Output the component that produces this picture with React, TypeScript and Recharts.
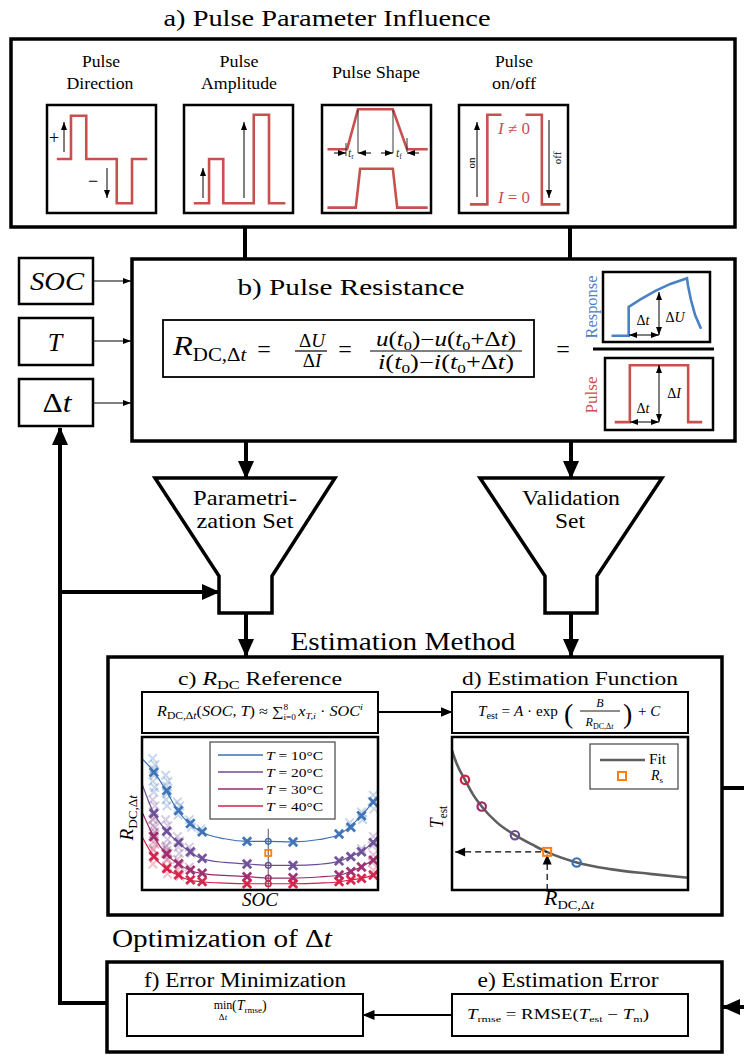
import React from 'react';
import { LineChart, Line, XAxis, YAxis, ComposedChart, Scatter, ReferenceLine } from 'recharts';

const FONT = "'Liberation Serif', 'DejaVu Serif', serif";
const RED = '#c8504f';
const BLUE = '#4a80c4';
const T_COLORS = ['#3a70b5', '#6b4d96', '#9c2a6b', '#d61f47'];
const T_LABELS = ['10', '20', '30', '40'];

// a) pulse sketches, time / level in 0..10 units
const dirT = [0.9, 2.2, 2.2, 3.6, 3.6, 6.4, 6.4, 7.8, 7.8, 9.2];
const dirI = [5, 5, 9, 9, 5, 5, 0.9, 0.9, 5, 5];
const ampT = [0.9, 2.3, 2.3, 3.6, 3.6, 6.4, 6.4, 7.8, 7.8, 9.3];
const ampI = [0.9, 0.9, 5, 5, 0.9, 0.9, 9.1, 9.1, 0.9, 0.9];
const shapeT1 = [0.5, 2.3, 3.3, 6.5, 7.8, 9.7];
const shapeI1 = [5.9, 5.9, 9.6, 9.6, 5.9, 5.9];
const shapeT2 = [0.5, 3.1, 3.5, 6.5, 6.9, 9.7];
const shapeI2 = [0.5, 0.5, 4.1, 4.1, 0.5, 0.5];
const onT = [1.0, 2.6, 2.6, 3.9];
const onI = [0.8, 0.8, 9.1, 9.1];
const offT = [6.1, 7.6, 7.6, 9.3];
const offI = [9.1, 9.1, 0.8, 0.8];

// b) response and pulse
const respT = [0.8, 2.4, 2.4, 3.5, 4.9, 6.3, 7.85, 7.94, 8.22, 8.6, 9.16];
const respU = [0.9, 0.9, 5.0, 6.1, 7.3, 8.3, 9.1, 8.1, 6.0, 3.9, 1.9];
const pulseT = [0.9, 2.3, 2.3, 7.7, 7.7, 9.0];
const pulseI = [1.1, 1.1, 9.0, 9.0, 1.1, 1.1];

// c) R_DC reference curves (SOC in %, R in a.u.)
const socGrid = [0, 5, 10, 15, 20, 25, 35, 45, 54, 64, 75, 84, 88, 93, 98, 100];
const r10 = [8.58, 7.73, 6.54, 5.23, 4.35, 3.81, 3.35, 3.18, 3.18, 3.14, 3.3, 3.66, 4.14, 4.86, 5.77, 6.15];
const r20 = [6.94, 5.01, 3.92, 3.16, 2.51, 2.07, 1.8, 1.7, 1.61, 1.61, 1.68, 1.9, 2.18, 2.51, 3.16, 3.55];
const r30 = [5.12, 3.49, 2.4, 1.74, 1.31, 1.09, 0.95, 0.87, 0.78, 0.78, 0.85, 0.98, 1.2, 1.52, 1.96, 2.1];
const r40 = [3.5, 2.18, 1.42, 0.98, 0.65, 0.54, 0.45, 0.41, 0.41, 0.41, 0.45, 0.54, 0.65, 0.76, 0.98, 1.1];

const measSoc = [5, 10.5, 15.5, 20.5, 25.5, 44.5, 64, 83.5, 88.5, 93, 98];
const meas10 = [7.7, 6.5, 5.2, 4.35, 3.8, 3.18, 3.14, 3.66, 4.1, 4.85, 5.75];
const meas20 = [5.0, 3.85, 3.1, 2.5, 2.07, 1.7, 1.6, 1.9, 2.18, 2.5, 3.1];
const meas30 = [3.5, 2.35, 1.72, 1.3, 1.1, 0.87, 0.8, 0.98, 1.2, 1.5, 1.95];
const meas40 = [2.2, 1.4, 1.0, 0.66, 0.55, 0.4, 0.4, 0.55, 0.65, 0.76, 0.98];

const faint10 = [[4.5, 8.6], [5.5, 8.2], [4.8, 7.9], [5.2, 7.5], [4.6, 7.1], [5.4, 6.7], [5, 6.4], [10, 7.5], [11, 7.1], [10.3, 6.8], [10.8, 6.3], [10.2, 5.9], [10.6, 5.5], [15, 5.75], [16, 5.5], [15.3, 4.9], [20, 4.6], [21, 4.1], [25, 4.0], [88, 4.4], [93, 5.1], [93.5, 4.6], [98, 6.2], [97.5, 5.8], [98.3, 5.3]];
const faint20 = [[4.5, 5.9], [5.5, 5.5], [4.8, 5.1], [5.2, 4.7], [4.6, 4.2], [5.4, 3.8], [5, 3.5], [10, 4.6], [11, 4.2], [10.3, 3.8], [10.8, 3.3], [10.2, 2.9], [10.6, 2.6], [15, 3.5], [16, 3.2], [15.3, 2.8], [15.8, 2.4], [20, 2.8], [21, 2.4], [93, 2.7], [98, 3.5], [97.5, 2.9]];
const faint30 = [[4.5, 4.6], [5.5, 4.1], [4.8, 3.7], [5.2, 3.2], [4.6, 2.7], [5.4, 2.2], [10, 2.8], [11, 2.4], [10.3, 2.0], [10.8, 1.5], [15, 2.0], [16, 1.6], [20, 1.5], [98, 2.3], [97.5, 1.8]];
const faint40 = [[4.5, 3.5], [5.5, 3.0], [4.8, 2.6], [5.2, 2.1], [4.6, 1.7], [10, 2.4], [11, 2.0], [10.3, 1.5], [10.8, 1.05], [15, 1.3], [16, 0.9], [98, 1.3]];

const refSoc = 53.5;
const refR = [3.18, 1.61, 0.78, 0.41];
const rsValue = 2.42;
const refLineTop = 4.0;

// d) estimation function
const fitR = [0, 0.12, 0.33, 0.54, 0.755, 1.14, 1.6, 2.07, 2.41, 3.17, 4.02, 5.03, 6.0];
const fitT = [50.2, 45.4, 39.6, 34.2, 30.0, 24.3, 19.7, 16.1, 13.7, 9.9, 7.5, 5.8, 4.4];
const dPointR = [3.17, 1.6, 0.755, 0.33];
const dPointT = [9.9, 19.7, 30.0, 39.6];
const rsTemp = 13.7;

const zip = (xs: number[], ys: number[]) => xs.map((t, i) => ({ t, v: ys[i] }));
const curveTable = socGrid.map((soc, i) => ({ soc, t0: r10[i], t1: r20[i], t2: r30[i], t3: r40[i] }));
const measSets = [meas10, meas20, meas30, meas40].map((m) => m.map((r, i) => ({ soc: measSoc[i], r })));
const faintSets = [faint10, faint20, faint30, faint40].map((f) => f.map(([soc, r]) => ({ soc, r })));
const fitTable = fitR.map((r, i) => ({ r, t: fitT[i] }));

const cross = (color: string, s: number, w: number, op: number) => (p: any) => (
  <path
    d={`M${p.cx - s},${p.cy - s}L${p.cx + s},${p.cy + s}M${p.cx - s},${p.cy + s}L${p.cx + s},${p.cy - s}`}
    stroke={color}
    strokeWidth={w}
    opacity={op}
    fill="none"
  />
);
const ring = (color: string, r: number, w: number) => (p: any) => (
  <circle cx={p.cx} cy={p.cy} r={r} fill="none" stroke={color} strokeWidth={w} />
);
const square = (s: number, w: number) => (p: any) => (
  <rect x={p.cx - s} y={p.cy - s} width={2 * s} height={2 * s} fill="none" stroke="#ff7f0e" strokeWidth={w} />
);

function Mini({ left, top, w, h, series, color }: any) {
  return (
    <div style={{ position: 'absolute', left, top }}>
      <LineChart width={w} height={h} margin={{ top: 0, right: 0, bottom: 0, left: 0 }}>
        <XAxis type="number" dataKey="t" domain={[0, 10]} hide />
        <YAxis type="number" domain={[0, 10]} hide />
        {series.map((d: any, i: number) => (
          <Line key={i} data={d} dataKey="v" type="linear" stroke={color} strokeWidth={2.6} dot={false} isAnimationActive={false} />
        ))}
      </LineChart>
    </div>
  );
}

// text fitted to the width measured in the reference
const L = ({ x, y, w, size, anchor = 'middle', children, ...rest }: any) => (
  <text x={x} y={y} fontSize={size} textAnchor={anchor} textLength={w} lengthAdjust="spacingAndGlyphs" {...rest}>
    {children}
  </text>
);

const Rdc = ({ size, sub }: { size: number; sub: number }) => (
  <>
    <tspan fontStyle="italic" fontSize={size}>R</tspan>
    <tspan fontSize={sub} dy={size * 0.22}>DC,Δ</tspan>
    <tspan fontSize={sub} fontStyle="italic">t</tspan>
    <tspan dy={-size * 0.22} fontSize={size}>{'\u200A'}</tspan>
  </>
);

export default function App() {
  const thick = { stroke: '#000', strokeWidth: 3.5, fill: 'none' };
  const thin = { stroke: '#000', strokeWidth: 2, fill: 'none' };
  return (
    <div style={{ position: 'absolute', left: 0, top: 0, width: 744, height: 1055, background: '#fff', fontFamily: FONT }}>
      {/* a) pulse sketches */}
      <Mini left={47} top={105} w={109} h={108} color={RED} series={[zip(dirT, dirI)]} />
      <Mini left={184} top={105} w={109} h={108} color={RED} series={[zip(ampT, ampI)]} />
      <Mini left={322} top={105} w={109} h={108} color={RED} series={[zip(shapeT1, shapeI1), zip(shapeT2, shapeI2)]} />
      <Mini left={459} top={105} w={109} h={108} color={RED} series={[zip(onT, onI), zip(offT, offI)]} />
      {/* b) response / pulse */}
      <Mini left={603} top={272} w={107} h={70} color={BLUE} series={[zip(respT, respU)]} />
      <Mini left={605} top={358} w={108} h={72} color={RED} series={[zip(pulseT, pulseI)]} />

      {/* c) reference plot */}
      <div style={{ position: 'absolute', left: 142, top: 737 }}>
        <ComposedChart width={236} height={153} data={curveTable} margin={{ top: 0, right: 0, bottom: 0, left: 0 }}>
          <XAxis type="number" dataKey="soc" domain={[0, 100]} hide />
          <YAxis type="number" domain={[0, 10]} hide />
          {faintSets.map((d, i) => (
            <Scatter key={`f${i}`} data={d} dataKey="r" shape={cross(T_COLORS[i], 4.2, 2, 0.28)} isAnimationActive={false} />
          ))}
          {T_COLORS.map((c, i) => (
            <Line key={`l${i}`} dataKey={`t${i}`} type="monotone" stroke={c} strokeWidth={1.2} dot={false} isAnimationActive={false} />
          ))}
          {measSets.map((d, i) => (
            <Scatter key={`m${i}`} data={d} dataKey="r" shape={cross(T_COLORS[i], 4.2, 2.8, 0.95)} isAnimationActive={false} />
          ))}
          <ReferenceLine segment={[{ x: refSoc, y: 0 }, { x: refSoc, y: refLineTop }]} stroke="#555" strokeWidth={1} />
          {refR.map((r, i) => (
            <Scatter key={`c${i}`} data={[{ soc: refSoc, r }]} dataKey="r" shape={ring(T_COLORS[i], 2.8, 1.5)} isAnimationActive={false} />
          ))}
          <Scatter data={[{ soc: refSoc, r: rsValue }]} dataKey="r" shape={square(3, 1.8)} isAnimationActive={false} />
        </ComposedChart>
      </div>

      {/* d) estimation function plot */}
      <div style={{ position: 'absolute', left: 452, top: 737 }}>
        <ComposedChart width={236} height={153} margin={{ top: 0, right: 0, bottom: 0, left: 0 }}>
          <XAxis type="number" dataKey="r" domain={[0, 6]} hide />
          <YAxis type="number" domain={[0, 55]} hide />
          <Line data={fitTable} dataKey="t" type="monotone" stroke="#5e5e5e" strokeWidth={2.6} dot={false} isAnimationActive={false} />
          <Line
            data={[{ r: 0.08, t: rsTemp }, { r: rsValue, t: rsTemp }]}
            dataKey="t"
            stroke="#000"
            strokeWidth={1.2}
            strokeDasharray="6 4"
            isAnimationActive={false}
            dot={(p: any) =>
              p.index === 0 ? <path key="h" d={`M${p.cx},${p.cy}l10,-4.5v9z`} fill="#000" /> : <g key={`h${p.index}`} />
            }
          />
          <Line
            data={[{ r: rsValue, t: 0 }, { r: rsValue, t: rsTemp - 0.9 }]}
            dataKey="t"
            stroke="#000"
            strokeWidth={1.2}
            strokeDasharray="6 4"
            isAnimationActive={false}
            dot={(p: any) =>
              p.index === 1 ? <path key="v" d={`M${p.cx},${p.cy}l-4.5,10h9z`} fill="#000" /> : <g key={`v${p.index}`} />
            }
          />
          {dPointR.map((r, i) => (
            <Scatter key={`d${i}`} data={[{ r, t: dPointT[i] }]} dataKey="t" shape={ring(T_COLORS[i], 4.2, 2.2)} isAnimationActive={false} />
          ))}
          <Scatter data={[{ r: rsValue, t: rsTemp }]} dataKey="t" shape={square(4, 2)} isAnimationActive={false} />
        </ComposedChart>
      </div>

      <svg width={744} height={1055} style={{ position: 'absolute', left: 0, top: 0 }} fontFamily={FONT} fill="#000">
        <defs>
          <marker id="big" markerUnits="userSpaceOnUse" viewBox="0 0 18 16" markerWidth={18} markerHeight={16} refX={17} refY={8} orient="auto-start-reverse">
            <path d="M0,0L18,8L0,16z" fill="#000" />
          </marker>
          <marker id="mid" markerUnits="userSpaceOnUse" viewBox="0 0 12 10" markerWidth={12} markerHeight={10} refX={11.5} refY={5} orient="auto-start-reverse">
            <path d="M0,0L12,5L0,10z" fill="#000" />
          </marker>
          <marker id="sm" markerUnits="userSpaceOnUse" viewBox="0 0 8 6" markerWidth={8} markerHeight={6} refX={8} refY={3} orient="auto-start-reverse">
            <path d="M0,0L8,3L0,6z" fill="#000" />
          </marker>
        </defs>

        {/* a) */}
        <L x={327} y={26} w={327} size={24}>a) Pulse Parameter Influence</L>
        <rect x={11} y={39} width={724} height={188} {...thick} />
        <L x={101} y={67} w={38} size={17}>Pulse</L>
        <L x={100} y={89} w={67} size={17}>Direction</L>
        <L x={239} y={67} w={39} size={17}>Pulse</L>
        <L x={239} y={89} w={76} size={17}>Amplitude</L>
        <L x={376} y={78} w={88} size={17}>Pulse Shape</L>
        <L x={514} y={67} w={38} size={17}>Pulse</L>
        <L x={514} y={89} w={44} size={17}>on/off</L>
        {[47, 184, 322, 459].map((x) => (
          <rect key={x} x={x} y={105} width={109} height={108} stroke="#000" strokeWidth={2.5} fill="none" />
        ))}
        <text x={54} y={144} fontSize={18} textAnchor="middle" fill="#000">+</text>
        <text x={93} y={187} fontSize={18} textAnchor="middle" fill="#000">−</text>
        <line x1={64} y1={152} x2={64} y2={122} stroke="#000" strokeWidth={1} markerEnd="url(#sm)" />
        <line x1={107} y1={168} x2={107} y2={198} stroke="#000" strokeWidth={1} markerEnd="url(#sm)" />
        <line x1={203} y1={198} x2={203} y2={168} stroke="#000" strokeWidth={1} markerEnd="url(#sm)" />
        <line x1={244} y1={198} x2={244} y2={122} stroke="#000" strokeWidth={1} markerEnd="url(#sm)" />
        {/* pulse shape annotations */}
        <g stroke="#222" strokeWidth={0.9}>
          <line x1={358} y1={110} x2={358} y2={153} />
          <line x1={393} y1={110} x2={393} y2={153} />
          <line x1={346} y1={143} x2={346} y2={156} />
          <line x1={407} y1={138} x2={407} y2={152} />
        </g>
        <line x1={334} y1={153} x2={346} y2={153} stroke="#000" strokeWidth={1} markerEnd="url(#sm)" />
        <line x1={371} y1={153} x2={358} y2={153} stroke="#000" strokeWidth={1} markerEnd="url(#sm)" />
        <line x1={381} y1={153} x2={393} y2={153} stroke="#000" strokeWidth={1} markerEnd="url(#sm)" />
        <line x1={419} y1={153} x2={407} y2={153} stroke="#000" strokeWidth={1} markerEnd="url(#sm)" />
        <text x={348} y={157} fontSize={12} fill="#333">
          <tspan fontStyle="italic">t</tspan>
          <tspan fontSize={8} dy={2}>r</tspan>
        </text>
        <text x={396} y={157} fontSize={12} fill="#333">
          <tspan fontStyle="italic">t</tspan>
          <tspan fontSize={8} dy={2}>f</tspan>
        </text>
        {/* on/off annotations */}
        <line x1={477} y1={197} x2={477} y2={122} stroke="#000" strokeWidth={1} markerEnd="url(#sm)" />
        <line x1={549} y1={120} x2={549} y2={198} stroke="#000" strokeWidth={1} markerEnd="url(#sm)" />
        <text transform="translate(475,163) rotate(-90)" fontSize={11} textAnchor="middle">on</text>
        <text transform="translate(561,158) rotate(-90)" fontSize={11} textAnchor="middle">off</text>
        <L x={514} y={134} w={32} size={16} fill={RED}>
          <tspan fontStyle="italic">I</tspan> ≠ 0
        </L>
        <L x={514} y={203} w={32} size={16} fill={RED}>
          <tspan fontStyle="italic">I</tspan> = 0
        </L>

        {/* connectors a -> b */}
        <line x1={245} y1={227} x2={245} y2={260} stroke="#000" strokeWidth={4} />
        <line x1={570} y1={227} x2={570} y2={260} stroke="#000" strokeWidth={4} />

        {/* inputs */}
        <rect x={19} y={258} width={74} height={46} stroke="#000" strokeWidth={2.5} fill="none" />
        <rect x={19} y={318} width={74} height={47} stroke="#000" strokeWidth={2.5} fill="none" />
        <rect x={19} y={379} width={74} height={47} stroke="#000" strokeWidth={2.5} fill="none" />
        <L x={57} y={290} w={54} size={25} fontStyle="italic">SOC</L>
        <text x={55} y={351} fontSize={26} fontStyle="italic" textAnchor="middle">T</text>
        <L x={57} y={412} w={29} size={27}>
          Δ<tspan fontStyle="italic">t</tspan>
        </L>
        {[281, 341, 403].map((y) => (
          <line key={y} x1={93} y1={y} x2={131} y2={y} stroke="#000" strokeWidth={1.2} markerEnd="url(#sm)" />
        ))}

        {/* b) */}
        <rect x={132} y={259} width={603} height={182} {...thick} />
        <L x={351} y={295} w={227} size={24}>b) Pulse Resistance</L>
        <rect x={163} y={320} width={371} height={57} stroke="#000" strokeWidth={1.8} fill="none" />
        <L x={173} y={355} w={76} size={28} anchor="start">
          <Rdc size={28} sub={18} />
        </L>
        <text x={264} y={357} fontSize={24} textAnchor="middle">=</text>
        <text x={312} y={347} fontSize={19} textAnchor="middle">
          Δ<tspan fontStyle="italic">U</tspan>
        </text>
        <line x1={295} y1={351} x2={327} y2={351} stroke="#000" strokeWidth={1.2} />
        <text x={312} y={367} fontSize={19} textAnchor="middle">
          Δ<tspan fontStyle="italic">I</tspan>
        </text>
        <text x={345} y={357} fontSize={24} textAnchor="middle">=</text>
        <L x={446} y={346} w={140} size={20}>
          <tspan fontStyle="italic">u</tspan>(<tspan fontStyle="italic">t</tspan>
          <tspan fontSize={13} dy={4}>0</tspan>
          <tspan dy={-4}>)−</tspan>
          <tspan fontStyle="italic">u</tspan>(<tspan fontStyle="italic">t</tspan>
          <tspan fontSize={13} dy={4}>0</tspan>
          <tspan dy={-4}>+Δ</tspan>
          <tspan fontStyle="italic">t</tspan>)
        </L>
        <line x1={370} y1={351} x2={522} y2={351} stroke="#000" strokeWidth={1.2} />
        <L x={446} y={369} w={136} size={20}>
          <tspan fontStyle="italic">i</tspan>(<tspan fontStyle="italic">t</tspan>
          <tspan fontSize={13} dy={4}>0</tspan>
          <tspan dy={-4}>)−</tspan>
          <tspan fontStyle="italic">i</tspan>(<tspan fontStyle="italic">t</tspan>
          <tspan fontSize={13} dy={4}>0</tspan>
          <tspan dy={-4}>+Δ</tspan>
          <tspan fontStyle="italic">t</tspan>)
        </L>
        <text x={563} y={357} fontSize={24} textAnchor="middle">=</text>
        <line x1={593} y1={349} x2={714} y2={349} stroke="#000" strokeWidth={3} />
        <rect x={603} y={272} width={107} height={70} stroke="#000" strokeWidth={2.5} fill="none" />
        <rect x={605} y={358} width={108} height={72} stroke="#000" strokeWidth={2.5} fill="none" />
        <L transform="translate(597,307) rotate(-90)" x={0} y={0} w={63} size={16} fill={BLUE}>Response</L>
        <L transform="translate(597,395) rotate(-90)" x={0} y={0} w={37} size={16} fill={RED}>Pulse</L>
        <line x1={629} y1={335} x2={659} y2={335} stroke="#000" strokeWidth={1} markerStart="url(#sm)" markerEnd="url(#sm)" />
        <line x1={659} y1={292} x2={659} y2={335} stroke="#000" strokeWidth={1} markerStart="url(#sm)" markerEnd="url(#sm)" />
        <line x1={630} y1={422} x2={659} y2={422} stroke="#000" strokeWidth={1} markerStart="url(#sm)" markerEnd="url(#sm)" />
        <line x1={659} y1={365} x2={659} y2={422} stroke="#000" strokeWidth={1} markerStart="url(#sm)" markerEnd="url(#sm)" />
        <text x={643} y={325} fontSize={14} textAnchor="middle">
          Δ<tspan fontStyle="italic">t</tspan>
        </text>
        <text x={675} y={322} fontSize={14} textAnchor="middle">
          Δ<tspan fontStyle="italic">U</tspan>
        </text>
        <text x={643} y={413} fontSize={14} textAnchor="middle">
          Δ<tspan fontStyle="italic">t</tspan>
        </text>
        <text x={674} y={398} fontSize={14} textAnchor="middle">
          Δ<tspan fontStyle="italic">I</tspan>
        </text>

        {/* funnels */}
        <line x1={246} y1={441} x2={246} y2={478} stroke="#000" strokeWidth={4} markerEnd="url(#big)" />
        <line x1={571} y1={441} x2={571} y2={478} stroke="#000" strokeWidth={4} markerEnd="url(#big)" />
        <polygon points="155,478 335,478 272,576 272,613 219,613 219,576" stroke="#000" strokeWidth={3.5} fill="#fff" />
        <polygon points="480,478 662,478 597,576 597,613 545,613 545,576" stroke="#000" strokeWidth={3.5} fill="#fff" />
        <L x={245} y={505} w={104} size={21}>Parametri-</L>
        <L x={245} y={528} w={97} size={21}>zation Set</L>
        <L x={571} y={505} w={98} size={21}>Validation</L>
        <L x={570} y={528} w={30} size={21}>Set</L>
        <line x1={246} y1={613} x2={246} y2={656} stroke="#000" strokeWidth={4} markerEnd="url(#big)" />
        <line x1={571} y1={613} x2={571} y2={656} stroke="#000" strokeWidth={4} markerEnd="url(#big)" />

        {/* feedback loop */}
        <path d="M108,1003H60V428" stroke="#000" strokeWidth={4} fill="none" markerEnd="url(#big)" />
        <line x1={60} y1={592} x2={219} y2={592} stroke="#000" strokeWidth={4} markerEnd="url(#big)" />
        <line x1={722} y1={788} x2={744} y2={788} stroke="#000" strokeWidth={4} />
        <line x1={746} y1={1007} x2={723} y2={1007} stroke="#000" strokeWidth={4} markerEnd="url(#big)" />

        {/* estimation method */}
        <L x={403} y={650} w={225} size={26}>Estimation Method</L>
        <rect x={108} y={657} width={614} height={258} {...thick} />
        <L x={260} y={685} w={164} size={19}>
          c) <tspan fontStyle="italic">R</tspan>
          <tspan fontSize={13} dy={4}>DC</tspan>
          <tspan dy={-4}> Reference</tspan>
        </L>
        <L x={570} y={685} w={216} size={19}>d) Estimation Function</L>
        <rect x={142} y={692} width={236} height={41} {...thin} />
        <rect x={452} y={692} width={236} height={41} {...thin} />
        <line x1={378} y1={712} x2={452} y2={712} stroke="#000" strokeWidth={2} markerEnd="url(#mid)" />
        <L x={260} y={716} w={206} size={14}>
          <tspan fontStyle="italic">R</tspan>
          <tspan fontSize={10} dy={3}>DC,Δ</tspan>
          <tspan fontSize={10} fontStyle="italic">t</tspan>
          <tspan dy={-3}>(</tspan>
          <tspan fontStyle="italic">SOC, T</tspan>) ≈ ∑
          <tspan fontSize={8} dy={-6}>8</tspan>
          <tspan fontSize={8} dx={-4} dy={10}>i=0</tspan>
          <tspan dy={-4} dx={2} fontStyle="italic">x</tspan>
          <tspan fontSize={9} dy={3} fontStyle="italic">T,i</tspan>
          <tspan dy={-3}> · </tspan>
          <tspan fontStyle="italic">SOC</tspan>
          <tspan fontSize={9} dy={-6} fontStyle="italic">i</tspan>
        </L>
        {/* d) formula */}
        <L x={478} y={716} w={80} size={15} anchor="start">
          <tspan fontStyle="italic">T</tspan>
          <tspan fontSize={10} dy={3}>est</tspan>
          <tspan dy={-3}>{'  =  '}</tspan>
          <tspan fontStyle="italic">A</tspan> · exp
        </L>
        <text x={564} y={723} fontSize={28}>(</text>
        <text x={600} y={707} fontSize={12} fontStyle="italic" textAnchor="middle">B</text>
        <line x1={580} y1={711} x2={620} y2={711} stroke="#000" strokeWidth={0.9} />
        <text x={600} y={726} fontSize={12} textAnchor="middle">
          <Rdc size={12} sub={8} />
        </text>
        <text x={623} y={723} fontSize={28}>)</text>
        <text x={638} y={716} fontSize={15}>
          + <tspan fontStyle="italic">C</tspan>
        </text>

        <rect x={142} y={737} width={236} height={153} stroke="#000" strokeWidth={2.5} fill="none" />
        <rect x={452} y={737} width={236} height={153} stroke="#000" strokeWidth={2.5} fill="none" />
        {/* legend c */}
        <rect x={210} y={742} width={125} height={77} stroke="#444" strokeWidth={1.2} fill="#fff" />
        {T_LABELS.map((t, i) => (
          <g key={t}>
            <line x1={218} y1={755 + 17 * i} x2={263} y2={755 + 17 * i} stroke={T_COLORS[i]} strokeWidth={1.3} />
            <L x={266} y={760 + 17 * i} w={57} size={13} anchor="start">
              <tspan fontStyle="italic">T</tspan> = {t}°C
            </L>
          </g>
        ))}
        {/* legend d */}
        <rect x={590} y={744} width={88} height={45} stroke="#444" strokeWidth={1.2} fill="#fff" />
        <line x1={600} y1={760} x2={645} y2={760} stroke="#5e5e5e" strokeWidth={2.6} />
        <L x={649} y={764} w={17} size={14} anchor="start">Fit</L>
        <rect x={618} y={772} width={8} height={8} stroke="#ff7f0e" strokeWidth={2} fill="none" />
        <text x={651} y={780} fontSize={14}>
          <tspan fontStyle="italic">R</tspan>
          <tspan fontSize={9} dy={3}>s</tspan>
        </text>
        {/* axis labels */}
        <L x={260} y={906} w={36} size={19} fontStyle="italic">SOC</L>
        <L transform="translate(133,817) rotate(-90)" x={0} y={0} w={47} size={19}>
          <Rdc size={19} sub={13} />
        </L>
        <L transform="translate(443,817) rotate(-90)" x={0} y={0} w={22} size={19}>
          <tspan fontStyle="italic">T</tspan>
          <tspan fontSize={12} dy={4}>est</tspan>
        </L>
        <L x={570} y={905} w={52} size={20}>
          <Rdc size={20} sub={13} />
        </L>

        {/* optimization */}
        <L x={112} y={947} w={220} size={25} anchor="start">
          Optimization of Δ<tspan fontStyle="italic">t</tspan>
        </L>
        <rect x={107} y={962} width={615} height={90} {...thick} />
        <L x={245} y={987} w={202} size={20}>f) Error Minimization</L>
        <L x={568} y={987} w={181} size={20}>e) Estimation Error</L>
        <rect x={127} y={994} width={236} height={42} {...thin} />
        <rect x={452} y={994} width={236} height={42} {...thin} />
        <line x1={452} y1={1015} x2={363} y2={1015} stroke="#000" strokeWidth={2} markerEnd="url(#mid)" />
        <text x={223} y={1009} fontSize={12} textAnchor="middle">min</text>
        <text x={223} y={1020} fontSize={9} textAnchor="middle">
          Δ<tspan fontStyle="italic">t</tspan>
        </text>
        <text x={232} y={1010} fontSize={14}>
          (<tspan fontStyle="italic">T</tspan>
          <tspan fontSize={9} dy={3}>rmse</tspan>
          <tspan dy={-3}>)</tspan>
        </text>
        <L x={558} y={1019} w={182} size={14}>
          <tspan fontStyle="italic">T</tspan>
          <tspan fontSize={9} dy={3}>rmse</tspan>
          <tspan dy={-3}>{'  =  RMSE('}</tspan>
          <tspan fontStyle="italic">T</tspan>
          <tspan fontSize={9} dy={3}>est</tspan>
          <tspan dy={-3}>{' − '}</tspan>
          <tspan fontStyle="italic">T</tspan>
          <tspan fontSize={9} dy={3}>m</tspan>
          <tspan dy={-3}>)</tspan>
        </L>
      </svg>
    </div>
  );
}
